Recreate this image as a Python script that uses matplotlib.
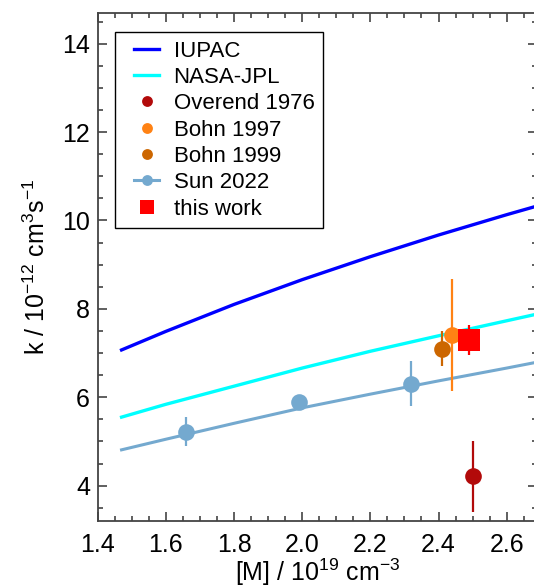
import matplotlib
matplotlib.use("Agg")
import matplotlib.pyplot as plt
from matplotlib.ticker import MultipleLocator
from matplotlib.lines import Line2D
from matplotlib.legend_handler import HandlerTuple, HandlerLine2D

plt.rcParams['font.family'] = ['Liberation Sans', 'DejaVu Sans']
plt.rcParams['mathtext.fontset'] = 'custom'
plt.rcParams['mathtext.rm'] = 'Liberation Sans'
plt.rcParams['mathtext.it'] = 'Liberation Sans:italic'
plt.rcParams['font.size'] = 18

# curves
m_grid = [1.47, 1.6, 1.8, 2.0, 2.2, 2.4, 2.6, 2.7]
k_iupac = [7.07, 7.49, 8.10, 8.66, 9.18, 9.67, 10.13, 10.35]
k_jpl = [5.55, 5.84, 6.25, 6.66, 7.04, 7.39, 7.73, 7.90]
k_sun_fit = [4.81, 5.05, 5.41, 5.76, 6.07, 6.37, 6.66, 6.81]

# measurements
sun_m = [1.66, 1.99, 2.32]
sun_k = [5.22, 5.89, 6.31]
sun_err = [0.33, 0.10, 0.50]

overend_m, overend_k, overend_err = [2.50], [4.21], [0.80]
bohn97_m, bohn97_k, bohn97_err = [2.44], [7.41], [1.27]
bohn99_m, bohn99_k, bohn99_err = [2.41], [7.10], [0.40]
work_m, work_k, work_err = [2.49], [7.30], [0.34]

c_iupac = '#0000ff'
c_jpl = '#00ffff'
c_overend = '#b20a0a'
c_bohn97 = '#ff8214'
c_bohn99 = '#cc6600'
c_sun = '#74a9cf'
c_work = '#ff0000'

fig = plt.figure(figsize=(5.34, 5.86), dpi=100)
ax = fig.add_axes([97.7 / 534, 65 / 586, (537 - 97.7) / 534, (521 - 12.7) / 586])

l_iupac, = ax.plot(m_grid, k_iupac, color=c_iupac, lw=2.4, label='IUPAC')
l_jpl, = ax.plot(m_grid, k_jpl, color=c_jpl, lw=2.4, label='NASA-JPL')
l_sunfit, = ax.plot(m_grid, k_sun_fit, color=c_sun, lw=2.2)

# error bars first, markers on top
for mx, ky, ey, col in [(overend_m, overend_k, overend_err, c_overend),
                        (bohn99_m, bohn99_k, bohn99_err, c_bohn99),
                        (bohn97_m, bohn97_k, bohn97_err, c_bohn97),
                        (sun_m, sun_k, sun_err, c_sun),
                        (work_m, work_k, work_err, c_work)]:
    ax.errorbar(mx, ky, yerr=ey, fmt='none', ecolor=col, elinewidth=1.6, capsize=0)

p_overend, = ax.plot(overend_m, overend_k, 'o', ms=12, mew=0, color=c_overend, label='Overend 1976')
p_bohn99, = ax.plot(bohn99_m, bohn99_k, 'o', ms=12, mew=0, color=c_bohn99, label='Bohn 1999')
p_bohn97, = ax.plot(bohn97_m, bohn97_k, 'o', ms=12, mew=0, color=c_bohn97, label='Bohn 1997')
p_sun, = ax.plot(sun_m, sun_k, 'o', ms=12, mew=0, color=c_sun)
p_work, = ax.plot(work_m, work_k, 's', ms=15.6, mew=0, color=c_work, label='this work')

ax.set_xlim(1.4, 2.689)
ax.set_ylim(3.2, 14.7)
ax.xaxis.set_major_locator(MultipleLocator(0.2))
ax.xaxis.set_minor_locator(MultipleLocator(0.05))
ax.yaxis.set_major_locator(MultipleLocator(2))
ax.yaxis.set_minor_locator(MultipleLocator(0.5))
ax.xaxis.set_major_formatter(plt.FuncFormatter(lambda v, p: f'{v:.1f}'))

ax.tick_params(which='both', direction='in', top=True, right=True, color='#444444', width=1.2)
ax.tick_params(which='major', length=6.7)
ax.tick_params(which='minor', length=3.5)
ax.tick_params(axis='x', pad=8.5)
ax.tick_params(axis='y', pad=5.5)
for s in ax.spines.values():
    s.set_color('#444444')
    s.set_linewidth(1.3)

ax.set_xlabel('[M] / 10$^{19}$ cm$^{-3}$', labelpad=0)
ax.set_ylabel('k / 10$^{-12}$ cm$^{3}$s$^{-1}$', labelpad=9)

handles = [l_iupac, l_jpl, p_overend, p_bohn97, p_bohn99, (l_sunfit, p_sun), p_work]
labels = ['IUPAC', 'NASA-JPL', 'Overend 1976', 'Bohn 1997', 'Bohn 1999', 'Sun 2022', 'this work']
leg = ax.legend(handles, labels, loc='upper left', fontsize=16,
                bbox_to_anchor=(114.5 / 534, 1 - 31.7 / 586), bbox_transform=fig.transFigure,
                borderaxespad=0, fancybox=False, framealpha=1, edgecolor='black',
                handlelength=1.6, handletextpad=0.66, labelspacing=0.24, borderpad=0.4,
                markerscale=0.65,
                handler_map={Line2D: HandlerLine2D(xpad=0.48),
                             tuple: HandlerTuple(ndivide=1, xpad=0.48)})
leg.get_frame().set_linewidth(1.0)

fig.savefig('out.png', dpi=100)
